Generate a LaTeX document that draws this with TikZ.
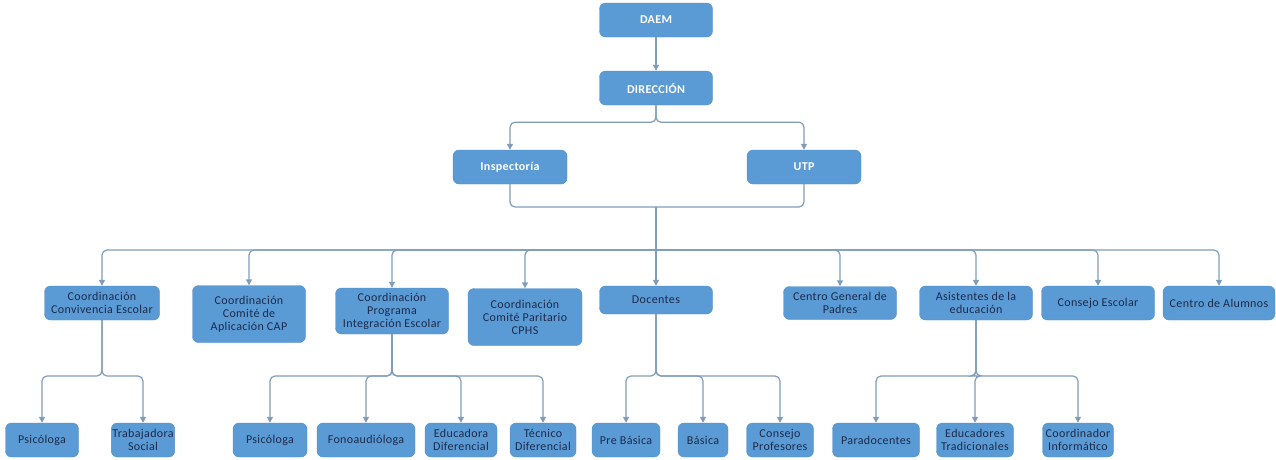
\documentclass[tikz,border=0pt]{standalone}
\usepackage{fontspec}
\setmainfont{Carlito}[LetterSpace=3]
\usetikzlibrary{arrows.meta}
\definecolor{boxblue}{HTML}{5B9BD5}
\definecolor{boxedge}{HTML}{5290CA}
\definecolor{inktext}{HTML}{1C2A4A}
\definecolor{linkgray}{HTML}{7F9DB9}
\begin{document}
\begin{tikzpicture}[x=1pt,y=-1pt]
\tikzstyle{every node}+=[inner sep=1pt]
\tikzstyle{box}=[draw=boxedge,fill=boxblue,rounded corners=6pt,align=center,font=\fontsize{12}{13}\selectfont,text=inktext]
\tikzstyle{headbox}=[box,text=white,font=\fontsize{12}{13}\selectfont\bfseries,minimum width=113,minimum height=34]
\tikzstyle{link}=[draw=linkgray,line width=1.2pt,rounded corners=5pt,-{Triangle[length=6pt,width=6pt]}]
\tikzstyle{line}=[draw=linkgray,line width=1.2pt,rounded corners=5pt]
\useasboundingbox (0,0) rectangle (1276,459);
\node [headbox] (daem) at (656,20) {DAEM};
\node [headbox] (dir) at (656,88) {DIRECCIÓN};
\node [headbox,minimum width=114] (insp) at (510,167) {Inspectoría};
\node [headbox,minimum width=114] (utp) at (804,167) {UTP};
\node [box,minimum width=115,minimum height=34] (conv) at (102,303) {Coordinación\\Convivencia Escolar};
\node [box,minimum width=113,minimum height=57] (cap) at (249,314) {Coordinación\\Comité de\\Aplicación CAP};
\node [box,minimum width=113,minimum height=46] (pie) at (392,311) {Coordinación\\Programa\\Integración Escolar};
\node [box,minimum width=114,minimum height=57] (cphs) at (525,317) {Coordinación\\Comité Paritario\\CPHS};
\node [box,minimum width=113,minimum height=28] (doc) at (656,300) {Docentes};
\node [box,minimum width=113,minimum height=33] (cgp) at (840,303) {Centro General de\\Padres};
\node [box,minimum width=113,minimum height=34] (asis) at (976,303) {Asistentes de la\\educación};
\node [box,minimum width=113,minimum height=34] (cesc) at (1098,303) {Consejo Escolar};
\node [box,minimum width=112,minimum height=34] (calu) at (1219,303) {Centro de Alumnos};
\node [box,minimum width=73,minimum height=34] (psi1) at (42,440) {Psicóloga};
\node [box,minimum width=54,minimum height=34] (trab) at (143,440) {Trabajadora\\Social};
\node [box,minimum width=74,minimum height=34] (psi2) at (270,440) {Psicóloga};
\node [box,minimum width=98,minimum height=34] (fono) at (366,440) {Fonoaudióloga};
\node [box,minimum width=72,minimum height=34] (educ) at (461,440) {Educadora\\Diferencial};
\node [box,minimum width=66,minimum height=34] (tec) at (543,440) {Técnico\\Diferencial};
\node [box,minimum width=68,minimum height=34] (preb) at (626,440) {Pre Básica};
\node [box,minimum width=50,minimum height=34] (bas) at (703,440) {Básica};
\node [box,minimum width=67,minimum height=34] (cpro) at (780,440) {Consejo\\Profesores};
\node [box,minimum width=87,minimum height=34] (para) at (876,440) {Paradocentes};
\node [box,minimum width=77,minimum height=34] (edtr) at (975,440) {Educadores\\Tradicionales};
\node [box,minimum width=71,minimum height=34] (coin) at (1078,440) {Coordinador\\Informático};
\coordinate (join) at (656,207);
\coordinate (hub) at (656,250);
\draw [link] (daem) -- (dir);
\draw [link] (dir.south) -- ++(0,17) -| (insp.north);
\draw [link] (dir.south) -- ++(0,17) -| (utp.north);
\draw [line] (insp.south) |- (join);
\draw [line] (utp.south) |- (join);
\draw [line] (join) -- (hub);
\draw [link] (hub) -| (conv.north);
\draw [link] (hub) -| (cap.north);
\draw [link] (hub) -| (pie.north);
\draw [link] (hub) -| (cphs.north);
\draw [link] (hub) -- (doc.north);
\draw [link] (hub) -| (cgp.north);
\draw [link] (hub) -| (asis.north);
\draw [link] (hub) -| (cesc.north);
\draw [link] (hub) -| (calu.north);
\draw [link] (conv.south) |- (102,376) -| (psi1.north);
\draw [link] (conv.south) |- (102,376) -| (trab.north);
\draw [link] (pie.south) |- (392,376) -| (psi2.north);
\draw [link] (pie.south) |- (392,376) -| (fono.north);
\draw [link] (pie.south) |- (392,376) -| (educ.north);
\draw [link] (pie.south) |- (392,376) -| (tec.north);
\draw [link] (doc.south) |- (656,376) -| (preb.north);
\draw [link] (doc.south) |- (656,376) -| (bas.north);
\draw [link] (doc.south) |- (656,376) -| (cpro.north);
\draw [link] (asis.south) |- (976,376) -| (para.north);
\draw [link] (asis.south) |- (976,376) -| (edtr.north);
\draw [link] (asis.south) |- (976,376) -| (coin.north);
\end{tikzpicture}
\end{document}
